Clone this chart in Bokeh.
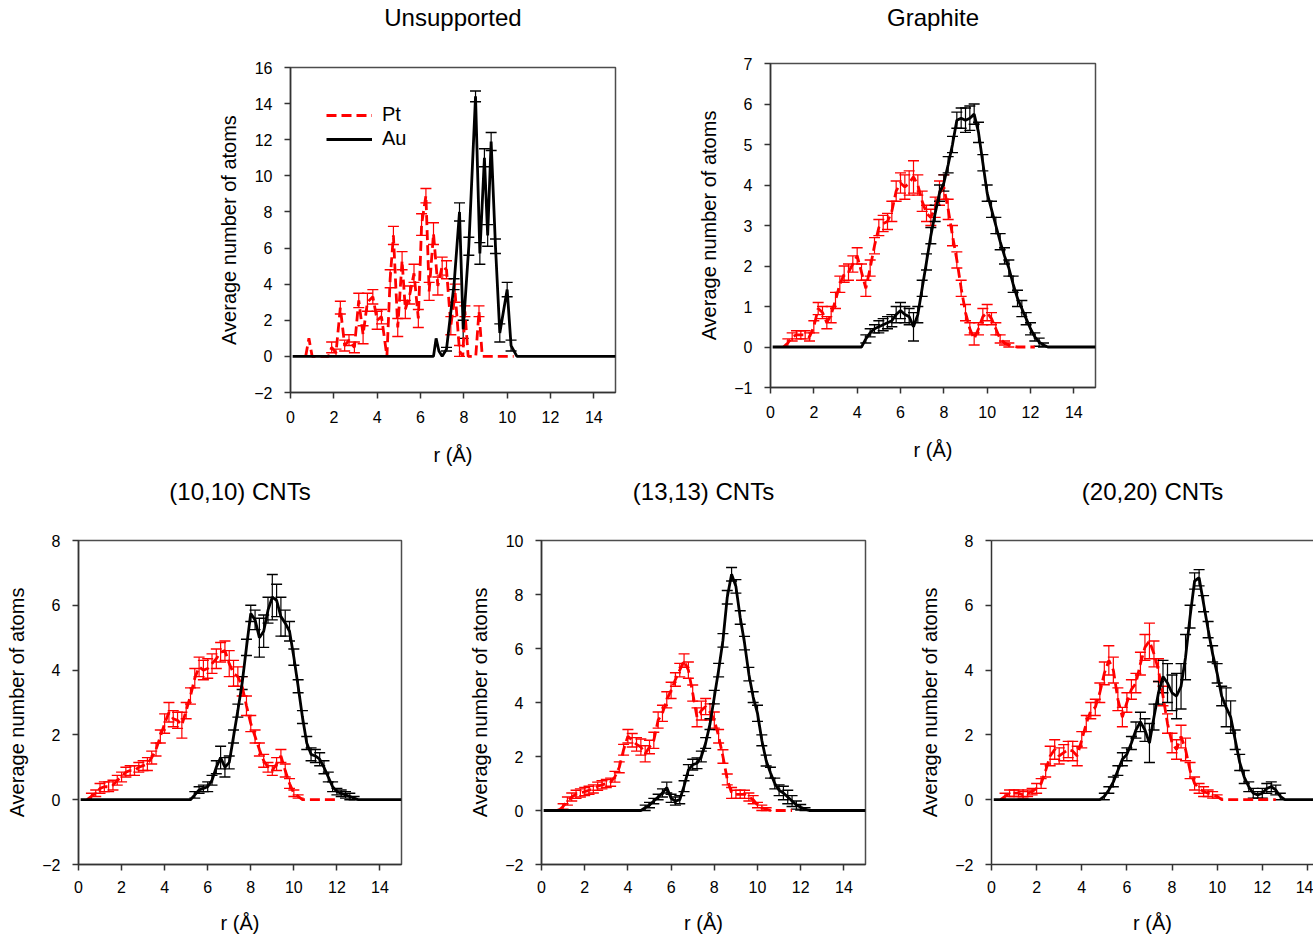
import numpy as np
from bokeh.plotting import figure
from bokeh.models import (ColumnDataSource, Whisker, TeeHead, Range1d, FixedTicker,
                          Legend, LegendItem, LinearAxis)
from bokeh.layouts import row, column
from bokeh.embed import file_html
from bokeh.resources import INLINE

FONT = "Liberation Sans"
RED = "#ff0000"
BLACK = "#000000"
FRAME = "#4d4d4d"

TITLES = ["Unsupported", "Graphite", "(10,10) CNTs", "(13,13) CNTs", "(20,20) CNTs"]
X_TICKS = [0, 2, 4, 6, 8, 10, 12, 14]
X_LABEL = "r (\u00c5)"
Y_LABEL = "Average number of atoms"
SERIES_NAMES = ["Pt", "Au"]

# ---------------- Unsupported ----------------
UN_PT_R = [0.7, 0.85, 1.0, 1.75, 1.9, 2.1, 2.3, 2.5, 2.7, 2.95,
           3.15, 3.35, 3.55, 3.8, 4.0, 4.2, 4.45, 4.6, 4.75, 4.95,
           5.15, 5.3, 5.5, 5.7, 5.9, 6.05, 6.25, 6.4, 6.6, 6.8,
           7.0, 7.2, 7.4, 7.6, 7.8, 7.95, 8.05, 8.2, 8.55, 8.7,
           8.85, 10.3]
UN_PT_Y = [0.0, 1.0, 0.0, 0.0, 0.5, 0.2, 2.7, 0.6, 0.9, 0.5,
           3.1, 1.2, 3.0, 3.3, 2.0, 2.2, 0.0, 4.3, 6.7, 1.6,
           5.3, 2.6, 3.4, 4.6, 2.1, 7.3, 8.9, 3.6, 6.8, 3.9,
           5.0, 4.8, 1.7, 3.5, 0.3, 0.0, 2.5, 0.0, 0.0, 2.5,
           0.0, 0.0]
UN_PT_E = [0.0, 0.0, 0.0, 0.0, 0.3, 0.2, 0.35, 0.3, 0.3, 0.3,
           0.4, 0.5, 0.5, 0.4, 0.5, 0.4, 0.0, 0.5, 0.5, 0.5,
           0.5, 0.5, 0.5, 0.5, 0.5, 0.6, 0.4, 0.5, 0.6, 0.5,
           0.5, 0.5, 0.5, 0.5, 0.3, 0.0, 0.3, 0.0, 0.0, 0.3,
           0.0, 0.0]
UN_AU_R = [0.1, 6.6, 6.72, 6.85, 7.0, 7.2, 7.55, 7.8, 7.97, 8.23,
           8.54, 8.74, 8.95, 9.1, 9.26, 9.46, 9.66, 10.0, 10.18, 10.45,
           15.0]
UN_AU_Y = [0.0, 0.0, 1.0, 0.3, 0.0, 0.4, 4.0, 8.0, 1.5, 6.1,
           14.4, 5.7, 11.0, 6.7, 11.9, 6.1, 1.3, 3.7, 0.6, 0.0,
           0.0]
UN_AU_E = [0.0, 0.0, 0.0, 0.0, 0.0, 0.1, 0.3, 0.5, 0.5, 0.5,
           0.3, 0.6, 0.5, 0.6, 0.5, 0.4, 0.5, 0.4, 0.3, 0.0,
           0.0]

# ---------------- Graphite ----------------
GR_PT_R = [0.6, 0.8, 1.0, 1.2, 1.4, 1.6, 1.8, 2.0, 2.2, 2.4,
           2.6, 2.8, 3.0, 3.2, 3.4, 3.6, 3.8, 4.0, 4.2, 4.4,
           4.6, 4.8, 5.0, 5.2, 5.4, 5.6, 5.8, 6.0, 6.2, 6.4,
           6.6, 6.8, 7.0, 7.2, 7.4, 7.6, 7.8, 8.0, 8.2, 8.4,
           8.6, 8.8, 9.0, 9.2, 9.4, 9.6, 9.8, 10.0, 10.2, 10.4,
           10.6, 10.8, 11.0, 11.2, 11.4, 11.6, 11.8, 12.0, 12.2]
GR_PT_Y = [0.0, 0.1, 0.25, 0.3, 0.3, 0.3, 0.25, 0.5, 0.95, 0.85,
           0.6, 0.8, 1.15, 1.55, 1.8, 1.85, 2.05, 2.25, 1.85, 1.45,
           1.95, 2.5, 2.95, 3.05, 3.1, 3.35, 3.85, 4.05, 3.95, 4.05,
           4.2, 4.0, 3.6, 3.3, 3.2, 3.45, 3.8, 3.95, 3.4, 2.75,
           2.15, 1.45, 0.85, 0.45, 0.2, 0.45, 0.75, 0.85, 0.7, 0.45,
           0.2, 0.1, 0.05, 0.02, 0.0, 0.0, 0.0, 0.0, 0.0]
GR_PT_E = [0.0, 0.1, 0.1, 0.1, 0.1, 0.1, 0.1, 0.15, 0.15, 0.15,
           0.15, 0.2, 0.2, 0.2, 0.2, 0.2, 0.2, 0.2, 0.2, 0.2,
           0.2, 0.2, 0.2, 0.2, 0.2, 0.25, 0.25, 0.25, 0.3, 0.3,
           0.4, 0.25, 0.25, 0.2, 0.2, 0.25, 0.3, 0.3, 0.25, 0.25,
           0.2, 0.2, 0.2, 0.15, 0.15, 0.15, 0.2, 0.2, 0.15, 0.15,
           0.1, 0.05, 0.05, 0.0, 0.0, 0.0, 0.0, 0.0, 0.0]
GR_AU_R = [0.1, 4.2, 4.4, 4.6, 4.8, 5.0, 5.2, 5.4, 5.6, 5.8,
           6.0, 6.2, 6.4, 6.6, 6.8, 7.0, 7.2, 7.4, 7.6, 7.8,
           8.0, 8.2, 8.4, 8.6, 8.8, 9.0, 9.2, 9.4, 9.6, 9.8,
           10.0, 10.2, 10.4, 10.6, 10.8, 11.0, 11.2, 11.4, 11.6, 11.8,
           12.0, 12.2, 12.4, 12.6, 12.8, 15.0]
GR_AU_Y = [0.0, 0.0, 0.2, 0.35, 0.45, 0.5, 0.55, 0.6, 0.65, 0.8,
           0.9, 0.8, 0.75, 0.5, 0.8, 1.45, 2.1, 2.75, 3.3, 3.8,
           4.05, 4.5, 5.0, 5.6, 5.65, 5.6, 5.65, 5.75, 5.3, 4.55,
           3.8, 3.4, 3.0, 2.6, 2.25, 1.95, 1.55, 1.2, 0.95, 0.7,
           0.45, 0.25, 0.12, 0.05, 0.0, 0.0]
GR_AU_E = [0.0, 0.0, 0.1, 0.1, 0.1, 0.15, 0.15, 0.15, 0.15, 0.2,
           0.2, 0.2, 0.2, 0.35, 0.2, 0.2, 0.2, 0.2, 0.2, 0.2,
           0.2, 0.2, 0.2, 0.2, 0.25, 0.3, 0.3, 0.25, 0.25, 0.2,
           0.2, 0.2, 0.2, 0.2, 0.2, 0.2, 0.2, 0.2, 0.2, 0.15,
           0.15, 0.1, 0.1, 0.05, 0.0, 0.0]

# ---------------- (10,10) CNTs ----------------
T10_PT_R = [0.4, 0.6, 0.8, 1.0, 1.2, 1.4, 1.6, 1.8, 2.0, 2.2,
            2.4, 2.6, 2.8, 3.0, 3.2, 3.4, 3.6, 3.8, 4.0, 4.2,
            4.4, 4.6, 4.8, 5.0, 5.2, 5.4, 5.6, 5.8, 6.0, 6.2,
            6.4, 6.6, 6.8, 7.0, 7.2, 7.4, 7.6, 7.8, 8.0, 8.2,
            8.4, 8.6, 8.8, 9.0, 9.2, 9.4, 9.6, 9.8, 10.0, 10.2,
            10.4, 10.6, 12.0]
T10_PT_Y = [0.0, 0.1, 0.2, 0.35, 0.4, 0.4, 0.45, 0.6, 0.7, 0.85,
            0.9, 0.9, 1.0, 1.05, 1.1, 1.3, 1.55, 1.95, 2.35, 2.7,
            2.5, 2.45, 2.3, 2.75, 3.2, 3.75, 4.1, 4.0, 4.05, 4.2,
            4.35, 4.55, 4.6, 4.2, 3.9, 3.8, 3.5, 2.9, 2.35, 1.95,
            1.55, 1.2, 1.0, 0.9, 1.1, 1.35, 0.9, 0.5, 0.2, 0.1,
            0.0, 0.0, 0.0]
T10_PT_E = [0.0, 0.1, 0.1, 0.15, 0.15, 0.15, 0.15, 0.15, 0.15, 0.15,
            0.15, 0.15, 0.15, 0.15, 0.2, 0.2, 0.2, 0.2, 0.3, 0.3,
            0.25, 0.25, 0.4, 0.25, 0.25, 0.3, 0.3, 0.3, 0.3, 0.3,
            0.3, 0.3, 0.3, 0.4, 0.4, 0.3, 0.3, 0.3, 0.25, 0.2,
            0.2, 0.2, 0.15, 0.15, 0.2, 0.2, 0.2, 0.15, 0.1, 0.05,
            0.0, 0.0, 0.0]
T10_AU_R = [0.1, 5.2, 5.4, 5.6, 5.8, 6.0, 6.2, 6.4, 6.6, 6.8,
            7.0, 7.2, 7.4, 7.6, 7.8, 8.0, 8.2, 8.4, 8.6, 8.8,
            9.0, 9.2, 9.4, 9.6, 9.8, 10.0, 10.2, 10.4, 10.6, 10.8,
            11.0, 11.2, 11.4, 11.6, 11.8, 12.0, 12.2, 12.4, 12.6, 12.8,
            13.0, 15.0]
T10_AU_Y = [0.0, 0.0, 0.15, 0.3, 0.35, 0.4, 0.6, 1.0, 1.3, 1.0,
            1.15, 1.95, 2.75, 3.6, 4.7, 5.75, 5.55, 5.0, 5.2, 5.85,
            6.25, 6.15, 5.65, 5.45, 5.2, 4.4, 3.5, 2.55, 1.75, 1.4,
            1.35, 1.25, 1.0, 0.7, 0.4, 0.25, 0.2, 0.15, 0.1, 0.05,
            0.0, 0.0]
T10_AU_E = [0.0, 0.0, 0.1, 0.1, 0.1, 0.15, 0.15, 0.2, 0.35, 0.3,
            0.2, 0.2, 0.2, 0.2, 0.25, 0.25, 0.3, 0.6, 0.5, 0.4,
            0.7, 0.5, 0.6, 0.4, 0.3, 0.25, 0.2, 0.2, 0.2, 0.2,
            0.2, 0.2, 0.2, 0.15, 0.15, 0.1, 0.1, 0.1, 0.1, 0.05,
            0.0, 0.0]

# ---------------- (13,13) CNTs ----------------
T13_PT_R = [0.8, 1.0, 1.2, 1.4, 1.6, 1.8, 2.0, 2.2, 2.4, 2.6,
            2.8, 3.0, 3.2, 3.4, 3.6, 3.8, 4.0, 4.2, 4.4, 4.6,
            4.8, 5.0, 5.2, 5.4, 5.6, 5.8, 6.0, 6.2, 6.4, 6.6,
            6.8, 7.0, 7.2, 7.4, 7.6, 7.8, 8.0, 8.2, 8.4, 8.6,
            8.8, 9.0, 9.2, 9.4, 9.6, 9.8, 10.0, 10.2, 10.4, 10.6,
            11.6]
T13_PT_Y = [0.0, 0.15, 0.35, 0.5, 0.6, 0.65, 0.7, 0.75, 0.8, 0.9,
            0.95, 1.0, 1.05, 1.25, 1.6, 2.25, 2.75, 2.6, 2.45, 2.35,
            2.1, 2.35, 2.6, 3.35, 3.6, 4.1, 4.45, 4.85, 5.2, 5.55,
            5.2, 4.35, 3.45, 3.7, 3.85, 3.65, 3.35, 2.75, 2.0, 1.15,
            0.65, 0.6, 0.6, 0.6, 0.5, 0.4, 0.2, 0.1, 0.05, 0.0,
            0.0]
T13_PT_E = [0.0, 0.1, 0.15, 0.15, 0.15, 0.15, 0.15, 0.15, 0.15, 0.15,
            0.15, 0.15, 0.15, 0.2, 0.2, 0.2, 0.25, 0.25, 0.25, 0.3,
            0.3, 0.25, 0.3, 0.3, 0.3, 0.3, 0.3, 0.25, 0.25, 0.25,
            0.3, 0.3, 0.35, 0.35, 0.3, 0.3, 0.3, 0.25, 0.25, 0.2,
            0.2, 0.15, 0.15, 0.15, 0.15, 0.15, 0.1, 0.1, 0.05, 0.0,
            0.0]
T13_AU_R = [0.1, 4.6, 4.8, 5.0, 5.2, 5.4, 5.6, 5.8, 6.0, 6.2,
            6.4, 6.6, 6.8, 7.0, 7.2, 7.4, 7.6, 7.8, 8.0, 8.2,
            8.4, 8.6, 8.8, 9.0, 9.2, 9.4, 9.6, 9.8, 10.0, 10.2,
            10.4, 10.6, 10.8, 11.0, 11.2, 11.4, 11.6, 11.8, 12.0, 12.2,
            12.4, 15.0]
T13_AU_Y = [0.0, 0.0, 0.1, 0.2, 0.35, 0.5, 0.65, 0.85, 0.45, 0.35,
            0.4, 0.9, 1.5, 1.7, 1.75, 2.0, 2.5, 3.2, 4.2, 5.2,
            6.3, 7.9, 8.75, 8.3, 7.15, 6.2, 5.05, 4.2, 3.6, 2.6,
            1.85, 1.4, 1.0, 0.75, 0.65, 0.5, 0.35, 0.2, 0.12, 0.05,
            0.0, 0.0]
T13_AU_E = [0.0, 0.0, 0.1, 0.1, 0.1, 0.1, 0.15, 0.2, 0.15, 0.15,
            0.15, 0.2, 0.2, 0.2, 0.2, 0.2, 0.2, 0.2, 0.25, 0.25,
            0.25, 0.25, 0.25, 0.25, 0.25, 0.25, 0.25, 0.2, 0.3, 0.2,
            0.2, 0.2, 0.2, 0.2, 0.25, 0.25, 0.2, 0.15, 0.1, 0.05,
            0.0, 0.0]

# ---------------- (20,20) CNTs ----------------
T20_PT_R = [0.4, 0.6, 0.8, 1.0, 1.2, 1.4, 1.6, 1.8, 2.0, 2.2,
            2.4, 2.6, 2.8, 3.0, 3.2, 3.4, 3.6, 3.8, 4.0, 4.2,
            4.4, 4.6, 4.8, 5.0, 5.2, 5.4, 5.6, 5.8, 6.0, 6.2,
            6.4, 6.6, 6.8, 7.0, 7.2, 7.4, 7.6, 7.8, 8.0, 8.2,
            8.4, 8.6, 8.8, 9.0, 9.2, 9.4, 9.6, 9.8, 10.0, 10.2,
            12.6]
T20_PT_Y = [0.0, 0.1, 0.2, 0.2, 0.2, 0.15, 0.2, 0.25, 0.35, 0.5,
            0.9, 1.35, 1.55, 1.35, 1.45, 1.55, 1.5, 1.35, 1.85, 2.35,
            2.75, 2.85, 3.3, 3.9, 4.3, 4.0, 3.1, 2.55, 3.0, 3.4,
            3.6, 4.2, 4.7, 4.9, 4.5, 4.0, 3.2, 2.35, 1.75, 1.55,
            1.95, 1.55, 0.9, 0.5, 0.35, 0.25, 0.2, 0.15, 0.1, 0.0,
            0.0]
T20_PT_E = [0.0, 0.1, 0.1, 0.1, 0.1, 0.1, 0.1, 0.1, 0.15, 0.15,
            0.2, 0.3, 0.3, 0.25, 0.25, 0.25, 0.3, 0.3, 0.25, 0.25,
            0.25, 0.25, 0.3, 0.35, 0.45, 0.4, 0.35, 0.3, 0.3, 0.3,
            0.3, 0.35, 0.4, 0.55, 0.4, 0.35, 0.3, 0.3, 0.3, 0.3,
            0.35, 0.35, 0.25, 0.2, 0.15, 0.15, 0.1, 0.1, 0.05, 0.0,
            0.0]
T20_AU_R = [0.1, 4.8, 5.0, 5.2, 5.4, 5.6, 5.8, 6.0, 6.2, 6.4,
            6.6, 6.8, 7.0, 7.2, 7.4, 7.6, 7.8, 8.0, 8.2, 8.4,
            8.6, 8.8, 9.0, 9.2, 9.4, 9.6, 9.8, 10.0, 10.2, 10.4,
            10.6, 10.8, 11.0, 11.2, 11.4, 11.6, 11.8, 12.0, 12.2, 12.4,
            12.6, 12.8, 13.0, 15.0]
T20_AU_Y = [0.0, 0.0, 0.1, 0.3, 0.55, 0.9, 1.25, 1.4, 1.75, 2.15,
            2.4, 2.15, 1.75, 2.55, 3.3, 3.8, 3.6, 3.3, 3.2, 3.5,
            4.4, 5.65, 6.75, 6.85, 6.05, 5.25, 4.5, 3.9, 3.2, 2.85,
            2.55, 1.85, 1.15, 0.7, 0.4, 0.2, 0.15, 0.2, 0.35, 0.4,
            0.3, 0.1, 0.0, 0.0]
T20_AU_E = [0.0, 0.0, 0.1, 0.1, 0.15, 0.15, 0.2, 0.2, 0.2, 0.25,
            0.3, 0.35, 0.6, 0.4, 0.35, 0.5, 0.6, 0.55, 0.7, 0.7,
            0.7, 0.35, 0.25, 0.25, 0.25, 0.25, 0.25, 0.3, 0.3, 0.6,
            0.5, 0.3, 0.25, 0.2, 0.15, 0.15, 0.1, 0.15, 0.15, 0.15,
            0.15, 0.1, 0.0, 0.0]


def add_series(p, r, y, e, color, dash):
    ln = p.line(x=r, y=y, line_color=color, line_width=2.8, line_dash=dash)
    r_a, y_a, e_a = np.array(r), np.array(y), np.array(e)
    keep = e_a > 0
    src = ColumnDataSource(dict(base=r_a[keep], upper=(y_a + e_a)[keep],
                                lower=(y_a - e_a)[keep]))
    w = Whisker(source=src, base="base", upper="upper", lower="lower",
                dimension="height", line_color=color, line_width=1.2,
                upper_head=TeeHead(size=11, line_color=color, line_width=1.4),
                lower_head=TeeHead(size=11, line_color=color, line_width=1.4))
    p.add_layout(w)
    return ln


def make_panel(title, yr, yticks, width, height, mbl, mbr, mbt, mbb, xend,
               pt, au, title_standoff, xtick_standoff, xlab_standoff,
               legend=False, outline=True):
    p = figure(width=width, height=height, x_range=Range1d(0, xend),
               y_range=Range1d(yr[0], yr[1]), output_backend="svg",
               toolbar_location=None, min_border_left=mbl,
               min_border_right=mbr, min_border_top=mbt, min_border_bottom=mbb,
               background_fill_color="white", border_fill_color="white")
    p.frame_align = False
    p.xgrid.visible = False
    p.ygrid.visible = False

    xax = p.below[0]
    yax = p.left[0]
    xax.ticker = FixedTicker(ticks=X_TICKS)
    yax.ticker = FixedTicker(ticks=yticks)

    # panel title, drawn as the label of a bare axis above the frame
    tax = LinearAxis(axis_label=title, ticker=FixedTicker(ticks=[]),
                     major_tick_out=0, major_tick_in=0,
                     minor_tick_out=0, minor_tick_in=0,
                     major_label_text_font_size="0px",
                     major_label_standoff=0,
                     axis_line_color=None if outline else FRAME,
                     axis_line_width=1.5,
                     axis_label_text_font=FONT,
                     axis_label_text_font_size="24px",
                     axis_label_text_font_style="normal",
                     axis_label_text_color="black",
                     axis_label_standoff=title_standoff)
    p.add_layout(tax, "above")

    if outline:
        p.outline_line_color = FRAME
        p.outline_line_width = 1.5
    else:
        p.outline_line_color = None
    xax.axis_label = X_LABEL
    yax.axis_label = Y_LABEL
    for ax in (xax, yax):
        ax.axis_label_text_font = FONT
        ax.axis_label_text_font_size = "20px"
        ax.axis_label_text_font_style = "normal"
        ax.axis_label_text_color = "black"
        ax.major_label_text_font = FONT
        ax.major_label_text_font_size = "16px"
        ax.major_label_text_color = "black"
        ax.major_tick_in = 0
        ax.major_tick_out = 6
        ax.major_tick_line_color = "#333333"
        ax.major_tick_line_width = 1.5
        ax.minor_tick_line_color = None
        ax.axis_line_color = "#333333"
        ax.axis_line_width = 1.5
    xax.major_label_standoff = xtick_standoff
    xax.axis_label_standoff = xlab_standoff
    yax.major_label_standoff = 12
    yax.axis_label_standoff = 11

    pt_line = add_series(p, pt[0], pt[1], pt[2], RED, "10 5")
    au_line = add_series(p, au[0], au[1], au[2], BLACK, "solid")

    if legend:
        lg = Legend(items=[LegendItem(label=SERIES_NAMES[0], renderers=[pt_line]),
                           LegendItem(label=SERIES_NAMES[1], renderers=[au_line])],
                    location="top_left", margin=36, padding=0, spacing=1,
                    glyph_width=46, glyph_height=20, label_standoff=10,
                    label_text_font=FONT, label_text_font_size="20px",
                    label_text_color="black",
                    border_line_color=None, background_fill_alpha=0)
        p.add_layout(lg)
    return p


p1 = make_panel(TITLES[0], (-2, 16), [-2, 0, 2, 4, 6, 8, 10, 12, 14, 16],
                685, 470, 290, 70, 67, 78, 15,
                (UN_PT_R, UN_PT_Y, UN_PT_E), (UN_AU_R, UN_AU_Y, UN_AU_E),
                37, 12, 18, legend=True)
p2 = make_panel(TITLES[1], (-1, 7), [-1, 0, 1, 2, 3, 4, 5, 6, 7],
                430, 470, 85, 20, 63, 83, 15,
                (GR_PT_R, GR_PT_Y, GR_PT_E), (GR_AU_R, GR_AU_Y, GR_AU_E),
                33, 12, 18)
p3 = make_panel(TITLES[2], (-2, 8), [-2, 0, 2, 4, 6, 8],
                461, 466, 78, 60, 70, 71, 15,
                (T10_PT_R, T10_PT_Y, T10_PT_E), (T10_AU_R, T10_AU_Y, T10_AU_E),
                36, 10, 16)
p4 = make_panel(TITLES[3], (-2, 10), [-2, 0, 2, 4, 6, 8, 10],
                450, 466, 80, 46, 70, 71, 15,
                (T13_PT_R, T13_PT_Y, T13_PT_E), (T13_AU_R, T13_AU_Y, T13_AU_E),
                36, 10, 16)
p5 = make_panel(TITLES[4], (-2, 8), [-2, 0, 2, 4, 6, 8],
                402, 466, 80, 0, 70, 71, 14.27,
                (T20_PT_R, T20_PT_Y, T20_PT_E), (T20_AU_R, T20_AU_Y, T20_AU_E),
                36, 10, 16, outline=False)

layout = column(row(p1, p2), row(p3, p4, p5))

open("out.html", "w").write(file_html(layout, INLINE))
